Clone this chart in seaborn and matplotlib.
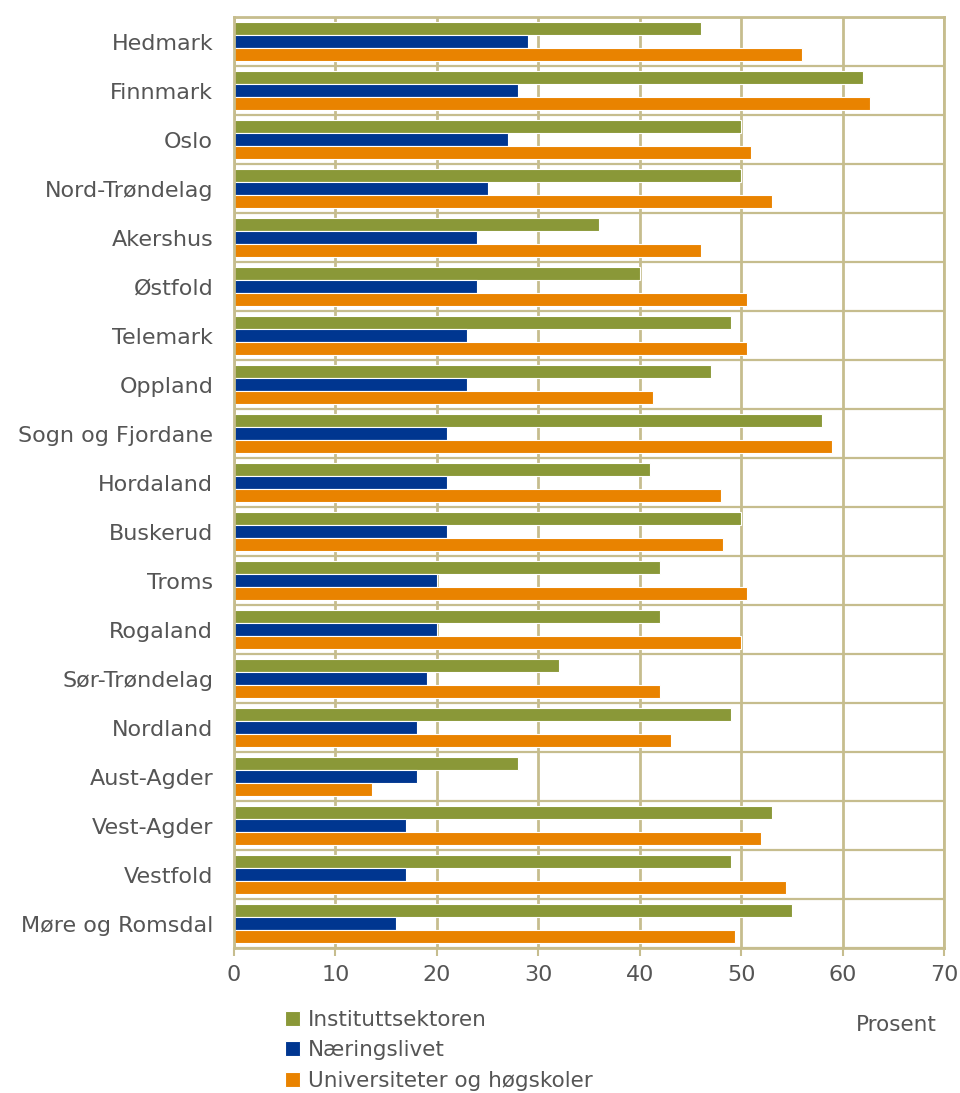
import pandas as pd
import numpy as np
import matplotlib.pyplot as plt
import seaborn as sns

# 데이터
fylker = ['Hedmark', 'Finnmark', 'Oslo', 'Nord-Trøndelag', 'Akershus', 'Østfold',
          'Telemark', 'Oppland', 'Sogn og Fjordane', 'Hordaland', 'Buskerud', 'Troms',
          'Rogaland', 'Sør-Trøndelag', 'Nordland', 'Aust-Agder', 'Vest-Agder',
          'Vestfold', 'Møre og Romsdal']
instituttsektoren = [46, 62, 50, 50, 36, 40, 49, 47, 58, 41, 50, 42, 42, 32, 49, 28, 53, 49, 55]
naeringslivet = [29, 28, 27, 25, 24, 24, 23, 23, 21, 21, 21, 20, 20, 19, 18, 18, 17, 17, 16]
universiteter = [56, 62.7, 51, 53, 46, 50.6, 50.6, 41.3, 59, 48, 48.2, 50.6, 50, 42, 43.1,
                 13.6, 52, 54.4, 49.4]
serier = ['Instituttsektoren', 'Næringslivet', 'Universiteter og høgskoler']
farger = ['#8A9838', '#003690', '#E98300']

df = pd.DataFrame({
    'fylke': fylker * 3,
    'sektor': [serier[0]] * len(fylker) + [serier[1]] * len(fylker) + [serier[2]] * len(fylker),
    'prosent': instituttsektoren + naeringslivet + universiteter,
})

sns.set_style('white')
plt.rcParams['font.family'] = ['DejaVu Sans']
tan = '#C6BD8E'
tekst = '#555555'

fig = plt.figure(figsize=(9.6, 10.93), dpi=100)
ax = fig.add_axes([234 / 960, 1 - 948 / 1093, 710 / 960, 931 / 1093])

sns.barplot(data=df, x='prosent', y='fylke', hue='sektor', hue_order=serier,
            palette=farger, saturation=1, orient='h', width=0.8, ax=ax,
            edgecolor='white', linewidth=0.8, legend=True)

ax.set_xlim(0, 70)
ax.set_xticks(np.arange(0, 71, 10))
ax.set_ylim(len(fylker) - 0.5, -0.5)
ax.set_yticks(np.arange(-0.5, len(fylker), 1), minor=True)
ax.set_xlabel('')
ax.set_ylabel('')

ax.grid(True, axis='x', color=tan, linewidth=2)
ax.grid(True, axis='y', which='minor', color=tan, linewidth=1.6)
ax.set_axisbelow(True)
for s in ax.spines.values():
    s.set_color(tan)
    s.set_linewidth(2)

ax.tick_params(axis='x', which='major', length=6, width=1.5, color=tan,
               labelsize=16, labelcolor=tekst, pad=6, direction='out', bottom=True)
ax.tick_params(axis='y', which='both', length=0, labelsize=16, labelcolor=tekst, pad=15)

# 범례
handles, labels = ax.get_legend_handles_labels()
ax.get_legend().remove()
fig.legend(handles, labels, loc='upper left', bbox_to_anchor=(276 / 960, 1 - 1001 / 1093),
           frameon=False, fontsize=15.5, handlelength=0.7, handleheight=0.7,
           handletextpad=0.4, labelspacing=0.5, labelcolor=tekst, borderaxespad=0)

fig.text(937 / 960, 1 - 1025 / 1093, 'Prosent', ha='right', va='center',
         fontsize=15.5, color=tekst)

plt.savefig('out.png', dpi=100)
